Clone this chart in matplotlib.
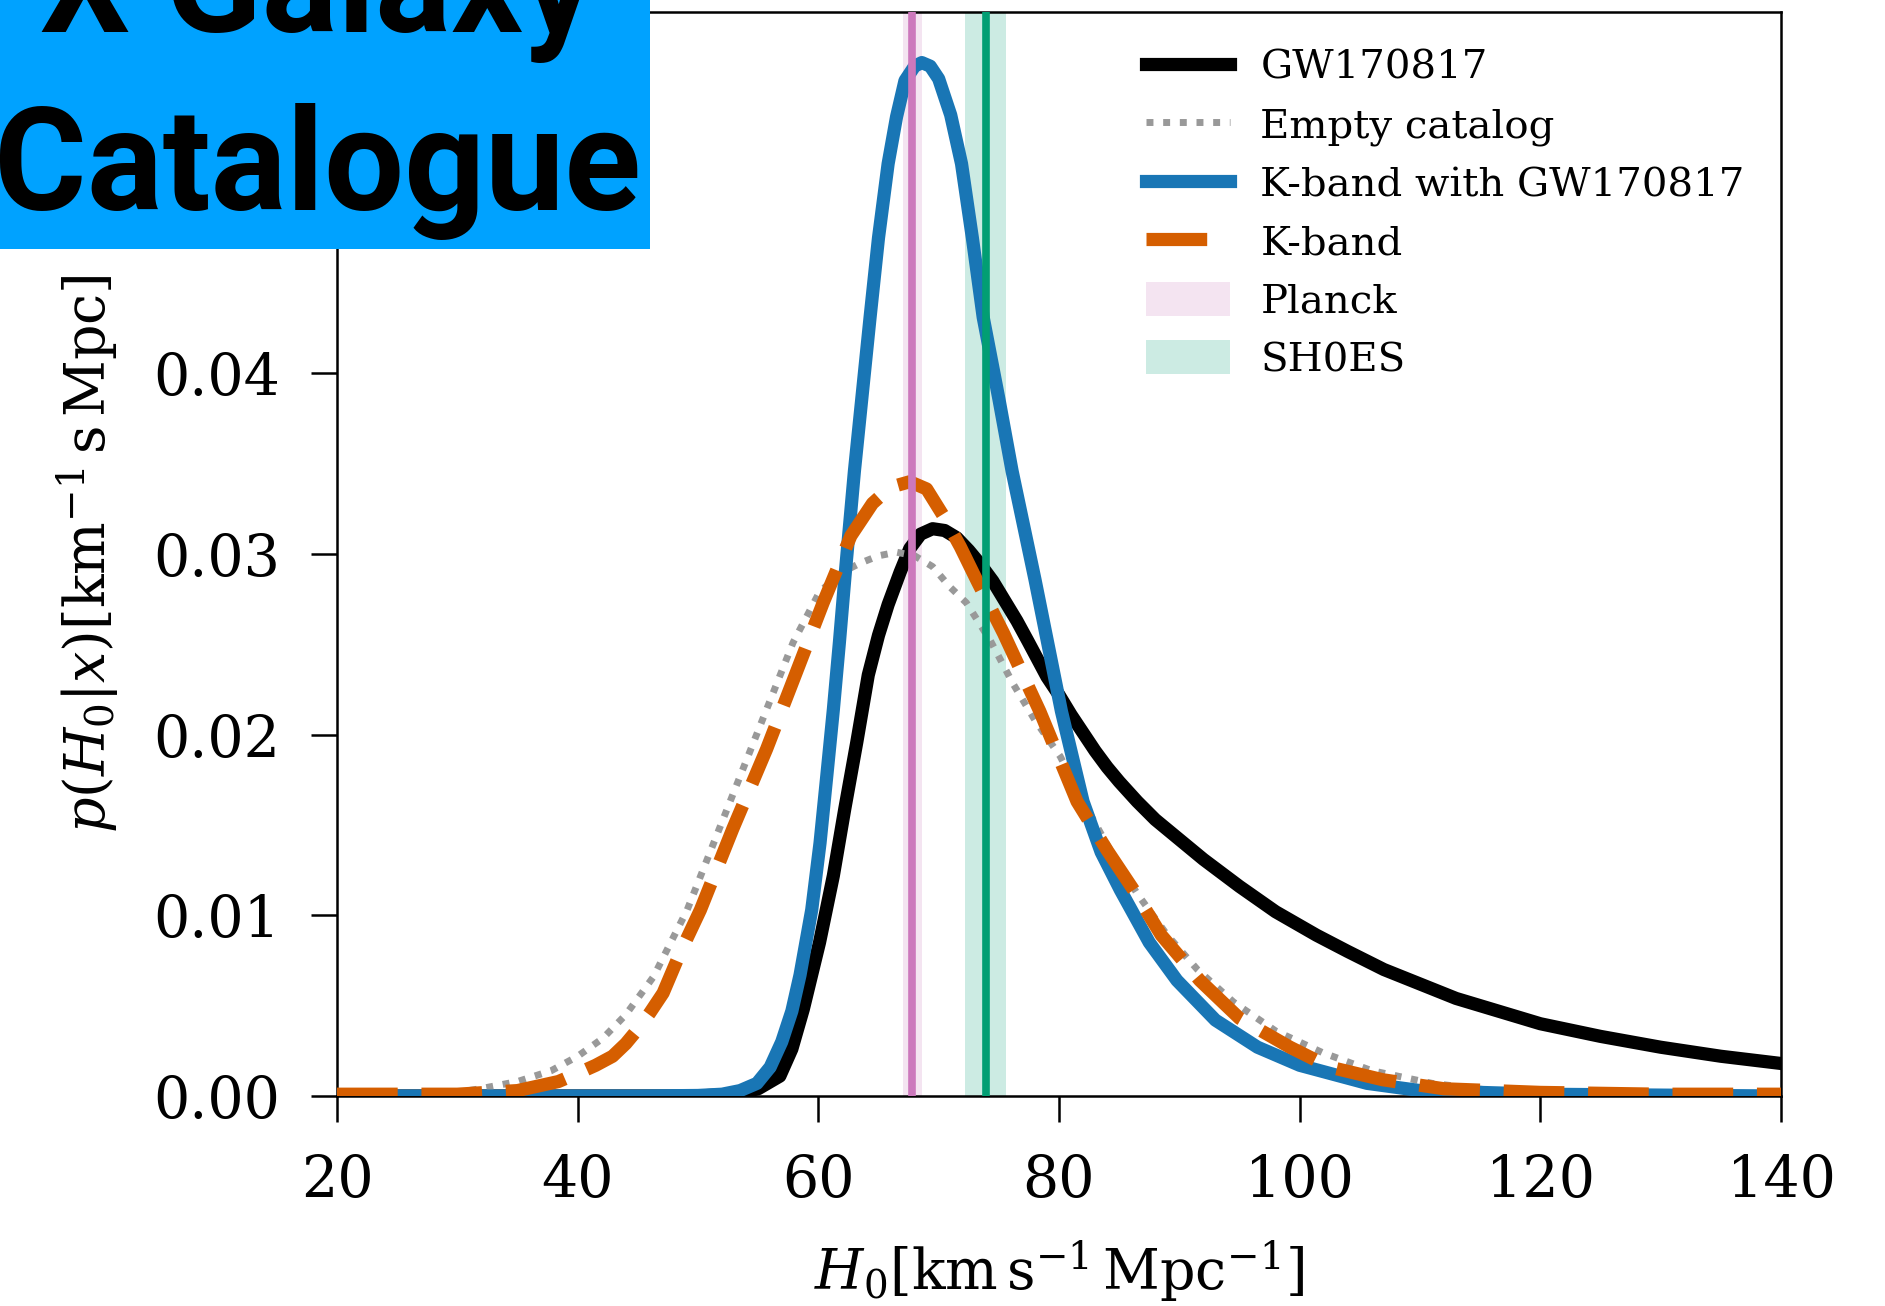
import matplotlib
matplotlib.use("Agg")
import matplotlib.pyplot as plt
from matplotlib.patches import Rectangle

plt.rcParams['font.family'] = 'DejaVu Serif'
plt.rcParams['mathtext.fontset'] = 'dejavuserif'

# GW170817 alone
h0_gw = [20, 50, 53, 55, 56.8, 57.8, 58.75, 60.1, 61.25, 62.2, 63.2, 64.15, 65, 65.8, 66.8,
         67.6, 68.5, 69.5, 70.5, 71.5, 72.5, 73.5, 74.5, 75.5, 76.5, 77.4, 78.2, 79, 80, 81, 82,
         83, 84, 85, 86.5, 88, 90, 92, 95, 98, 101.4, 104, 107, 110, 113, 116, 120, 125, 130,
         135, 140]
p_gw = [0, 0, 0.0001, 0.0004, 0.0011, 0.0026, 0.0048, 0.0085, 0.0122, 0.0159, 0.0196, 0.0233,
        0.0255, 0.0272, 0.0290, 0.0303, 0.0311, 0.0314, 0.0313, 0.0309, 0.0302, 0.0294, 0.0285,
        0.0274, 0.0263, 0.0252, 0.0242, 0.0232, 0.0222, 0.0211, 0.0201, 0.0191, 0.0182, 0.0174,
        0.0163, 0.0153, 0.0142, 0.0131, 0.0116, 0.0102, 0.0089, 0.0080, 0.0070, 0.0062, 0.0054,
        0.0048, 0.0040, 0.0033, 0.0027, 0.0022, 0.0018]

# empty catalog
h0_empty = [20, 28, 31.9, 35, 37.8, 40, 42.1, 44, 46.3, 49.1, 51.3, 53.5, 55.7, 57.9, 60.1, 62,
            63.5, 65, 66.5, 68, 69.5, 70.9, 72.3, 74.3, 76.2, 78, 80.1, 82, 84, 86.5, 89, 91.5,
            94.5, 98, 101.9, 106, 111, 116, 125, 140]
p_empty = [0, 0, 0.0004, 0.0008, 0.0014, 0.0022, 0.0032, 0.0045, 0.0066, 0.0103, 0.0140, 0.0177,
           0.0214, 0.0251, 0.0279, 0.0290, 0.0295, 0.0299, 0.0301, 0.0299, 0.0293, 0.0282,
           0.0273, 0.0252, 0.0228, 0.0208, 0.0188, 0.0163, 0.0139, 0.0112, 0.0089, 0.0070,
           0.0052, 0.0036, 0.0024, 0.0014, 0.0007, 0.0003, 0.0001, 0]

# K-band with GW170817
h0_kgw = [20, 45, 50, 52, 53.5, 54.9, 56, 56.96, 57.8, 58.48, 59.45, 60.14, 60.7, 61.25, 61.75,
          62.22, 63, 64.3, 65, 65.8, 66.5, 67.2, 68, 68.6, 69.3, 70, 71, 71.9, 72.8, 73.7, 75,
          76.1, 78, 80.2, 82, 83.5, 85.1, 87.5, 89.8, 93, 96.5, 100, 105.6, 110, 120, 140]
p_kgw = [0, 0, 0.00003, 0.0001, 0.0003, 0.0007, 0.0016, 0.0030, 0.0047, 0.0067, 0.0103, 0.0140,
         0.0177, 0.0214, 0.0251, 0.0288, 0.0346, 0.0431, 0.0475, 0.0516, 0.0542, 0.0562, 0.0570,
         0.0572, 0.0570, 0.0563, 0.0543, 0.0516, 0.0475, 0.0431, 0.0386, 0.0346, 0.0286, 0.0213,
         0.0163, 0.0135, 0.0114, 0.0085, 0.0064, 0.0042, 0.0027, 0.0017, 0.0007, 0.0003, 0.0001,
         0.0]

# K-band only
h0_k = [20, 30, 35, 38.4, 40.5, 41.5, 42.9, 44, 45, 46, 47.1, 48.5, 50.2, 52.9, 55.7, 58.2, 60.4,
        62.7, 64.5, 66, 67.6, 69, 70.4, 71.8, 73.2, 75.4, 78.4, 81.5, 84, 86.2, 88.5, 91.7, 95,
        99.2, 102.5, 106.9, 112, 120, 130, 140]
p_k = [0.0001, 0.0001, 0.0003, 0.0008, 0.0014, 0.0017, 0.0022, 0.0029, 0.0037, 0.0046, 0.0057,
       0.0079, 0.0103, 0.0148, 0.0192, 0.0235, 0.0273, 0.0310, 0.0328, 0.0337, 0.0340, 0.0336,
       0.0321, 0.0304, 0.0285, 0.0256, 0.0213, 0.0163, 0.0136, 0.0114, 0.0089, 0.0064, 0.0043,
       0.0027, 0.0016, 0.0009, 0.0004, 0.0002, 0.0001, 0.0001]

planck = (67.8, 0.8)
shoes = (73.9, 1.7)

xticks = [20, 40, 60, 80, 100, 120, 140]
yticks = [0.00, 0.01, 0.02, 0.03, 0.04, 0.05]

fig = plt.figure(figsize=(18.85, 13.06), dpi=100)
ax = fig.add_axes([337 / 1885, 1 - 1096 / 1306, 1444 / 1885, 1084 / 1306])

lw = 9.5
ax.plot(h0_gw, p_gw, color='black', lw=lw, label='GW170817', zorder=3)
ax.plot(h0_empty, p_empty, color='#999999', lw=5, dashes=(1, 1.4), label='Empty catalog', zorder=3)
ax.plot(h0_kgw, p_kgw, color='#1976b5', lw=lw, label='K-band with GW170817', zorder=3)
ax.plot(h0_k, p_k, color='#d55e00', lw=lw, dashes=(4.6, 1.8), label='K-band', zorder=3)

ax.axvspan(planck[0] - planck[1], planck[0] + planck[1], color='#cc78bc', alpha=0.2, lw=0,
           label='Planck', zorder=1)
ax.axvline(planck[0], color='#cc78bc', lw=5.5, zorder=4)
ax.axvspan(shoes[0] - shoes[1], shoes[0] + shoes[1], color='#029e73', alpha=0.2, lw=0,
           label='SH0ES', zorder=1)
ax.axvline(shoes[0], color='#029e73', lw=5.5, zorder=4)

ax.set_xlim(20, 140)
ax.set_ylim(0, 0.06)
ax.set_xticks(xticks)
ax.set_yticks(yticks)
ax.set_xticklabels([str(v) for v in xticks])
ax.set_yticklabels(['%.2f' % v for v in yticks])
ax.tick_params(direction='out', length=19, width=1.8, pad=22, labelsize=41)
for s in ax.spines.values():
    s.set_linewidth(1.8)

ax.set_xlabel(r'$H_0[\mathrm{km\,s^{-1}\,Mpc^{-1}}]$', fontsize=40, labelpad=21)
ax.set_ylabel(r'$p(H_0|x)[\mathrm{km^{-1}\,s\,Mpc}]$', fontsize=40, labelpad=23)

ax.legend(loc='upper right', frameon=False, fontsize=29, handlelength=2.1,
          handletextpad=0.75, handleheight=0.9, labelspacing=0.49)

# overlay box in the top left corner
fig.patches.append(Rectangle((0, 1 - 249 / 1306), 650 / 1885, 249 / 1306,
                             transform=fig.transFigure, facecolor='#00a2ff',
                             edgecolor='none', zorder=10))
fig.text(317 / 1885, 1 - 32 / 1306, 'X Galaxy', fontsize=102, family='Roboto',
         weight='bold', ha='center', va='baseline', zorder=11)
fig.text(317 / 1885, 1 - 210 / 1306, 'Catalogue', fontsize=102, family='Roboto',
         weight='bold', ha='center', va='baseline', zorder=11)

fig.savefig('out.png', dpi=100)
